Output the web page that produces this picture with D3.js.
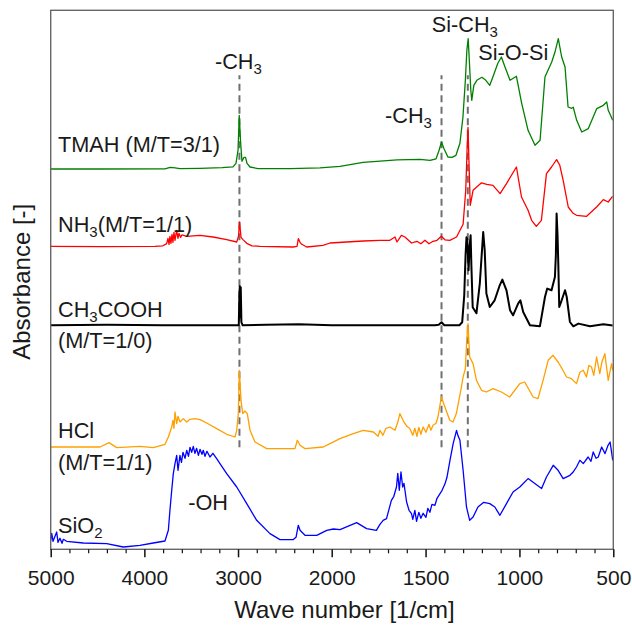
<!DOCTYPE html>
<html>
<head>
<meta charset="utf-8">
<script src="https://cdn.jsdelivr.net/npm/d3@7"></script>
<style>
  body { margin: 0; background: #fff; }
  text { font-family: Arial, "Liberation Sans", sans-serif; }
</style>
</head>
<body>
<div id="chart"></div>
<script>
// FTIR spectra, [wave number, absorbance (a.u.)], stacked with offsets
var tmah = [[5000,0.3],[4474,0.3],[3780,0.5],[3725,2],[3673,1.5],[3620,0.7],[3407,1],[3171,1.7],[3054,2.5],[3022,6],[3000,19],[2987,54],[2974,29],[2958,8],[2936,12],[2920,12],[2904,6],[2872,2.3],[2787,0.7],[2445,0.7],[2125,1.5],[1956,3],[1833,7],[1652,9.5],[1530,10],[1476,9],[1444,10.5],[1428,19],[1415,27.3],[1403,21],[1381,12.3],[1359,12],[1338,14],[1317,26],[1301,52],[1288,89],[1280,119],[1273,130.7],[1267,109],[1259,79],[1254,69],[1243,84],[1227,89],[1200,92],[1179,89],[1158,84],[1142,92],[1115,106],[1096,112.3],[1077,102.3],[1050,89],[1016,93],[988,66],[954,39],[917,24],[890,29],[864,92.3],[828,107.3],[811,117],[793,130.7],[775,112.3],[757,102.3],[741,62.3],[722,61],[713,62],[695,49],[668,37.3],[633,40.7],[588,60.7],[553,64],[535,67.3],[527,59],[503,49]];

var nh3 = [[5000,1],[4473,0.7],[3887,1],[3802,1.5],[3762,3.7],[3748,9],[3737,3],[3727,11],[3716,4],[3705,13],[3695,5],[3684,15],[3673,7],[3655,17],[3641,9],[3631,14],[3614,10],[3598,12.5],[3548,11],[3406,12],[3267,10.3],[3121,7.7],[3014,5.3],[2995,11],[2984,25.3],[2968,10],[2947,7.7],[2907,4],[2851,1.5],[2765,1],[2413,0.3],[2370,1],[2356,8.7],[2338,5],[2320,3],[2267,0.3],[2093,2],[2018,4.3],[1832,6.3],[1743,7],[1690,7],[1663,10.3],[1652,5.3],[1629,12],[1610,10.3],[1575,4.3],[1546,6],[1525,3.5],[1503,7],[1482,3.5],[1460,6],[1439,7],[1416,11],[1397,7.5],[1371,7],[1335,10.3],[1300,23],[1286,57],[1279,97],[1274,120],[1268,80.3],[1262,42],[1247,57],[1202,64.5],[1174,63],[1141,62],[1103,53.7],[1069,63.7],[1016,80.3],[989,50.3],[954,37],[935,27],[910,21],[883,27],[856,73.7],[829,80.3],[811,85.3],[802,87.7],[785,82],[767,67],[740,40.3],[714,34],[696,32],[642,31],[589,40.3],[553,47.7],[527,45.3],[504,51]];

var ch3cooh = [[5000,0],[4400,0.5],[3800,0],[3000,0],[2992,0],[2986,30],[2981,39],[2976,8],[2971,38],[2964,3],[2950,0],[2700,0.5],[2350,1],[2000,0],[1450,0],[1430,0.5],[1415,3],[1400,0],[1320,0],[1305,3],[1294,30],[1287,70],[1282,88],[1278,86],[1271,55],[1265,80],[1260,90],[1256,60],[1249,18],[1229,12],[1211,42],[1193,93.3],[1185,75],[1176,31.7],[1158,18.3],[1132,25],[1105,40],[1091,45.7],[1069,35],[1050,15],[1034,10],[1007,21.7],[995,25],[980,13.3],[944,0],[891,-1],[864,28.3],[852,36.7],[829,35],[811,48.3],[806,70],[802,111.7],[797,90],[793,61.7],[788,18.3],[775,25],[757,35],[748,28.3],[731,3.3],[713,-1],[686,1.7],[624,-1],[553,1],[503,-0.3]];

var hcl = [[5000,0.3],[4474,0.3],[4377,4.7],[4295,-0.3],[4047,1],[3905,-0.3],[3780,3],[3744,10.3],[3708,20.3],[3695,27],[3684,19],[3673,35.3],[3655,23.7],[3641,31],[3620,25.3],[3584,28.7],[3548,25.3],[3513,28],[3460,28.7],[3406,27.7],[3335,24.3],[3228,18.7],[3121,13],[3032,10.3],[3014,17],[2997,33.7],[2986,77],[2968,47],[2950,33.7],[2926,36.3],[2901,33.7],[2872,17],[2819,5.3],[2694,-1.3],[2392,-1.3],[2367,7],[2338,2],[2285,-1.3],[2090,0.3],[2018,3.7],[1956,8.7],[1885,13.7],[1832,17],[1778,15.3],[1753,11],[1743,17],[1727,12],[1711,19],[1690,20.3],[1663,17],[1648,25],[1637,33.7],[1620,27],[1600,21],[1584,18.7],[1568,12],[1557,19],[1546,11],[1536,20],[1525,13],[1513,20.3],[1498,15],[1482,23],[1472,17],[1460,22],[1444,24],[1434,30.3],[1416,50.3],[1397,40.3],[1371,27],[1354,25.3],[1336,33.7],[1309,60.3],[1300,70.3],[1288,78.7],[1281,107],[1274,123.7],[1265,90.3],[1247,83.7],[1229,67],[1202,57],[1176,55.3],[1141,58.7],[1096,55.3],[1052,50.3],[998,63.7],[972,65.3],[927,50.3],[901,48.7],[874,67],[847,87],[821,92],[794,85.3],[774,79],[749,70.3],[726,69],[696,63.7],[678,75],[660,77],[643,70.3],[630,82],[616,80.3],[604,72],[589,90.3],[572,73.7],[561,85],[545,93.7],[527,67],[509,83.7],[503,77]];

var sio2 = [[5000,7],[4989,14],[4975,6],[4954,11],[4936,15.3],[4922,5],[4901,9],[4879,4],[4865,8],[4829,6],[4652,4.3],[4402,3.7],[4225,0.3],[4047,2],[3905,4.3],[3780,6.3],[3744,17],[3727,37],[3708,57],[3691,73.7],[3673,83.7],[3655,92],[3641,77],[3620,92],[3604,85],[3588,95],[3566,89],[3548,97],[3529,91],[3513,100],[3495,95],[3478,101],[3460,94],[3442,99],[3423,92],[3406,98],[3385,93],[3371,97],[3353,91],[3332,96],[3300,90.3],[3268,94],[3228,88.7],[3193,83.7],[3121,73.7],[3014,60.3],[2907,43.7],[2801,27],[2659,13.7],[2552,7.7],[2410,7.7],[2381,10],[2357,22],[2338,17],[2320,15.3],[2285,12],[2160,12],[2053,17],[1991,18.3],[1956,17.7],[1867,24.7],[1814,18.7],[1762,17],[1743,23],[1726,27],[1708,28.7],[1682,47],[1669,51],[1655,60.3],[1648,74],[1640,57],[1631,75.3],[1622,60.3],[1615,64],[1601,45.3],[1588,37],[1575,33.7],[1568,28],[1557,37],[1548,26],[1536,35],[1525,29],[1513,34],[1498,30],[1488,39],[1477,35],[1466,43],[1450,42],[1439,49],[1423,53.7],[1412,57],[1396,63.7],[1386,70],[1370,87],[1353,103.7],[1335,117],[1328,112],[1317,107],[1300,77],[1282,40.3],[1265,27],[1247,30.3],[1221,40.3],[1190,45],[1158,43.7],[1131,40.3],[1104,32],[1069,43.7],[1034,55.3],[998,60.3],[954,68.7],[918,63.7],[882,58.7],[856,70.3],[820,82],[794,77],[767,68.7],[731,72],[715,75],[696,80.3],[678,87],[660,83.7],[634,90.3],[619,86],[607,95.3],[592,89],[580,90.3],[562,100.3],[544,93.7],[528,102],[517,105.3],[503,87]];

var seriesData = [tmah, nh3, ch3cooh, hcl, sio2];
var seriesOffsets = [380, 302, 224, 102, 2];
var seriesColors = ["#008000", "#ff0000", "#000000", "#ffa000", "#0000ff"];

var majorTicks = [5000, 4000, 3000, 2000, 1500, 1000, 500];
var minorTicks = [4800, 4600, 4400, 4200, 3800, 3600, 3400, 3200, 2800, 2600, 2400, 2200,
                  1900, 1800, 1700, 1600, 1400, 1300, 1200, 1100, 900, 800, 700, 600];

// peak assignments (dashed guides)
var peakWaves = [2985, 1415, 1275];
var peakSpan = [102, 474];

var width = 632, height = 625;
var svg = d3.select("#chart").append("svg")
    .attr("width", width)
    .attr("height", height);

// broken x scale: 5000-2000 compressed, 2000-500 expanded
var x = d3.scaleLinear()
    .domain([5000, 2000, 500])
    .range([50.7, 331.7, 613.3]);
var y = d3.scaleLinear()
    .domain([0, 539])
    .range([549.3, 10.3]);

// dashed guide lines
svg.append("g")
  .selectAll("line")
  .data(peakWaves)
  .enter()
  .append("line")
    .attr("x1", function (d) { return x(d); })
    .attr("x2", function (d) { return x(d); })
    .attr("y1", y(peakSpan[0]))
    .attr("y2", y(peakSpan[1]))
    .style("stroke", "#707070")
    .style("stroke-width", 2)
    .style("stroke-dasharray", "7,4.5");

// spectra
seriesData.forEach(function (data, i) {
    var line = d3.line()
        .x(function (d) { return x(d[0]); })
        .y(function (d) { return y(d[1] + seriesOffsets[i]); });
    svg.append("path")
        .datum(data)
        .attr("d", line)
        .style("fill", "none")
        .style("stroke", seriesColors[i])
        .style("stroke-width", i == 2 ? 2 : 1.3)
        .style("stroke-linejoin", "round");
});

// frame
svg.append("rect")
    .attr("x", x(5000))
    .attr("y", y(539))
    .attr("width", x(500) - x(5000))
    .attr("height", y(0) - y(539))
    .style("fill", "none")
    .style("stroke", "#666")
    .style("stroke-width", 1.4);

// x axis
var xAxis = svg.append("g")
    .attr("transform", "translate(0," + y(0) + ")")
    .call(d3.axisBottom(x).tickValues(majorTicks).tickSize(8).tickSizeOuter(0)
        .tickPadding(13).tickFormat(d3.format("d")));
xAxis.select(".domain").remove();
xAxis.selectAll("line").style("stroke", "#111").style("stroke-width", 1.5);
xAxis.selectAll("text").style("font-size", "21px").style("fill", "#1a1a1a")
    .style("font-family", "Arial, 'Liberation Sans', sans-serif");

var xMinor = svg.append("g")
    .attr("transform", "translate(0," + y(0) + ")")
    .call(d3.axisBottom(x).tickValues(minorTicks).tickSize(4).tickSizeOuter(0).tickFormat(""));
xMinor.select(".domain").remove();
xMinor.selectAll("line").style("stroke", "#111").style("stroke-width", 1.2);

// axis titles
svg.append("text")
    .attr("x", 344.5)
    .attr("y", 618)
    .style("text-anchor", "middle")
    .style("font-size", "24px")
    .style("fill", "#1a1a1a")
    .text("Wave number [1/cm]");

svg.append("text")
    .attr("transform", "translate(30," + ((y(0) + y(539)) / 2 + 2) + ") rotate(-90)")
    .style("text-anchor", "middle")
    .style("font-size", "24px")
    .style("fill", "#1a1a1a")
    .text("Absorbance [-]");

// labels: [wave, absorbance, text before subscript, subscript, text after]
var labels = [
    [4922, 397.6, "TMAH (M/T=3/1)", "", ""],
    [4922, 317.6, "NH", "3", "(M/T=1/1)"],
    [4922, 232, "CH", "3", "COOH"],
    [4922, 201, "(M/T=1/0)", "", ""],
    [4922, 111, "HCl", "", ""],
    [4922, 79, "(M/T=1/1)", "", ""],
    [4922, 16, "SiO", "2", ""],
    [3246, 480, "-CH", "3", ""],
    [1716, 426, "-CH", "3", ""],
    [1467, 517.6, "Si-CH", "3", ""],
    [1219, 489, "Si-O-Si", "", ""],
    [3531, 39, "-OH", "", ""]
];

labels.forEach(function (l) {
    var t = svg.append("text")
        .attr("x", x(l[0]))
        .attr("y", y(l[1]))
        .style("font-size", "21.7px")
        .style("fill", "#1a1a1a");
    t.append("tspan").text(l[2]);
    if (l[3]) {
        t.append("tspan").attr("dy", 5).style("font-size", "15px").text(l[3]);
        if (l[4]) t.append("tspan").attr("dy", -5).text(l[4]);
    }
});
</script>
</body>
</html>
